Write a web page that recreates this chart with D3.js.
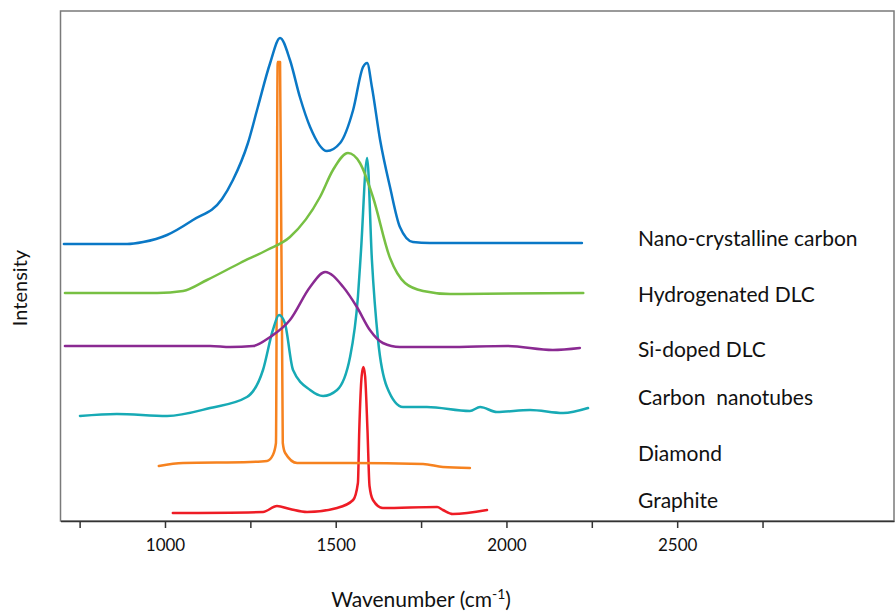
<!DOCTYPE html>
<html>
<head>
<meta charset="utf-8">
<script src="https://cdn.jsdelivr.net/npm/d3@7"></script>
<style>
  body { margin: 0; background: #fff; }
  svg { display: block; font-family: "Lato", "Open Sans", sans-serif; }
</style>
</head>
<body>
<div id="chart"></div>
<script>
var width = 895,
    height = 611;

// wavenumber (cm-1) / intensity (arbitrary units, curves stacked with offsets)
var nanoX = [704, 889, 936, 1006, 1082, 1167, 1199, 1243, 1272, 1308, 1337, 1366, 1395, 1425, 1474, 1513, 1551, 1580, 1592, 1606, 1630, 1659, 1688, 1726, 1776, 2221];
var nanoY = [277, 277, 279, 286, 301, 322, 341, 378, 414, 458, 483, 461, 424, 394, 370, 378, 411, 454, 458, 434, 381, 334, 294, 279, 278, 278];

var hydX = [707, 977, 1053, 1123, 1220, 1299, 1366, 1454, 1492, 1536, 1571, 1609, 1659, 1703, 1756, 1835, 2225];
var hydY = [228, 228, 230, 241, 258, 271, 284, 324, 351, 368, 358, 324, 263, 238, 230, 227, 228];

var siX = [707, 1132, 1191, 1258, 1308, 1366, 1425, 1469, 1522, 1562, 1600, 1638, 1688, 1826, 2002, 2136, 2215];
var siY = [175, 175, 174, 175, 184, 201, 234, 249, 234, 214, 191, 178, 174, 174, 175, 171, 173];

var cntX = [751, 859, 1006, 1132, 1240, 1287, 1316, 1334, 1351, 1375, 1425, 1463, 1504, 1542, 1565, 1574, 1592, 1606, 1624, 1650, 1697, 1767, 1893, 1923, 1972, 2069, 2166, 2239];
var cntY = [105, 107, 105, 113, 124, 151, 191, 206, 198, 151, 131, 125, 131, 164, 224, 270, 363, 261, 181, 134, 114, 114, 110, 114, 109, 111, 108, 113];

var diaX = [982, 1053, 1249, 1299, 1316, 1325, 1330, 1337, 1345, 1352, 1387, 1542, 1756, 1814, 1893];
var diaY = [55, 58, 59, 60, 66, 78, 459, 459, 78, 68, 58, 58, 57, 54, 53];

var graX = [1023, 1287, 1328, 1366, 1416, 1504, 1551, 1565, 1569, 1576, 1581, 1586, 1593, 1599, 1609, 1638, 1797, 1814, 1843, 1943];
var graY = [8, 9, 15, 12, 9, 13, 21, 38, 91, 145, 154, 145, 91, 35, 21, 13, 14, 11, 7, 11];

var names = ["Nano-crystalline carbon", "Hydrogenated DLC", "Si-doped DLC", "Carbon  nanotubes", "Diamond", "Graphite"];
var colors = ["#0a78c6", "#77c043", "#8a2a92", "#17aab5", "#f6821f", "#ee1c25"];
var labelY = [275, 219, 164, 116, 60, 13];

var tickValues = [750, 1000, 1250, 1500, 1750, 2000, 2250, 2500, 2750];
var tickLabels = [1000, 1500, 2000, 2500];

var series = [
    {x: nanoX, y: nanoY},
    {x: hydX, y: hydY},
    {x: siX, y: siY},
    {x: cntX, y: cntY},
    {x: diaX, y: diaY},
    {x: graX, y: graY}
];

var plotL = 60.5, plotR = 894, plotT = 11, plotB = 521;

var x = d3.scaleLinear().domain([694, 3135]).range([plotL, plotR]);
var y = d3.scaleLinear().domain([0, 510]).range([plotB, plotT]);

var svg = d3.select("#chart")
    .append("svg")
    .attr("width", width)
    .attr("height", height);

// frame
svg.append("rect")
    .attr("x", plotL)
    .attr("y", plotT)
    .attr("width", plotR - plotL)
    .attr("height", plotB - plotT)
    .attr("fill", "none")
    .attr("stroke", "#7a7a7a")
    .attr("stroke-width", 1.5);

var line = d3.line()
    .x(function(d) { return x(d[0]); })
    .y(function(d) { return y(d[1]); })
    .curve(d3.curveMonotoneX);

// draw in back-to-front order (graphite first so blue sits on top)
var order = [5, 4, 3, 2, 1, 0];
order.forEach(function(i) {
    var s = series[i];
    var pts = s.x.map(function(v, j) { return [v, s.y[j]]; });
    svg.append("path")
        .datum(pts)
        .attr("d", line)
        .attr("fill", "none")
        .attr("stroke", colors[i])
        .attr("stroke-width", 2.5)
        .attr("stroke-linejoin", "round")
        .attr("stroke-linecap", "round");
});

// labels
svg.append("g")
    .selectAll("text")
    .data(names)
    .enter()
    .append("text")
    .attr("x", 638)
    .attr("y", function(d, i) { return y(labelY[i]); })
    .style("white-space", "pre")
    .attr("font-size", 21)
    .attr("fill", "#111")
    .text(function(d) { return d; });

// x axis
var xAxis = d3.axisBottom(x)
    .tickValues(tickValues)
    .tickSize(7)
    .tickSizeOuter(0)
    .tickPadding(11)
    .tickFormat(function(d) { return tickLabels.indexOf(d) >= 0 ? d : ""; });

var gx = svg.append("g")
    .attr("transform", "translate(0," + plotB + ")")
    .call(xAxis);
gx.select(".domain").attr("stroke", "#333").attr("stroke-width", 1.5);
gx.selectAll(".tick line").attr("stroke", "#333").attr("stroke-width", 1.5);
gx.selectAll(".tick text")
    .attr("font-family", "Lato, sans-serif")
    .attr("font-size", 17)
    .attr("fill", "#111");

// axis titles
var xt = svg.append("text")
    .attr("x", 421)
    .attr("y", 607)
    .attr("text-anchor", "middle")
    .attr("font-size", 21)
    .attr("fill", "#111");
xt.append("tspan").text("Wavenumber (cm");
xt.append("tspan").attr("font-size", 14).attr("dy", -8).text("-1");
xt.append("tspan").attr("dy", 8).text(")");

svg.append("text")
    .attr("transform", "translate(27,288) rotate(-90)")
    .attr("text-anchor", "middle")
    .attr("font-size", 20)
    .attr("fill", "#111")
    .text("Intensity");
</script>
</body>
</html>
